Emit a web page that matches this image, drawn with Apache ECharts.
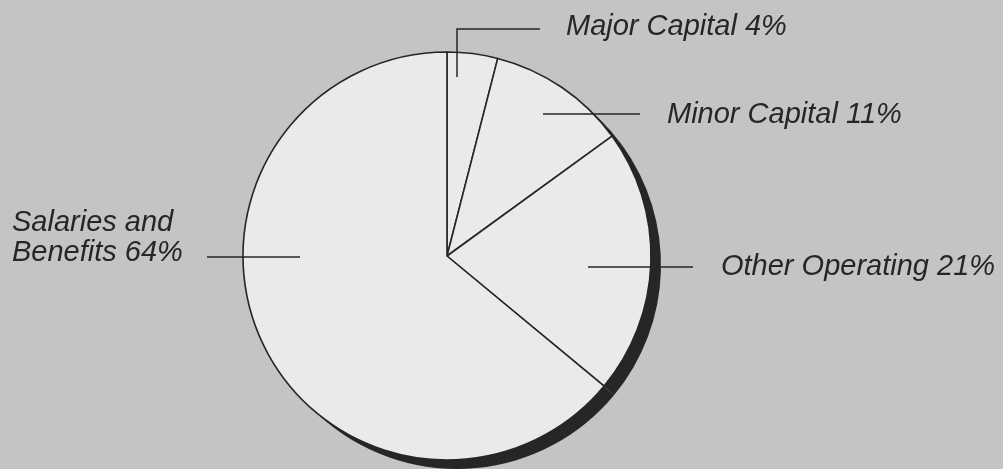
<!DOCTYPE html>
<html>
<head>
<meta charset="utf-8">
<script src="https://cdn.jsdelivr.net/npm/echarts@6/dist/echarts.min.js"></script>
<style>
html,body{margin:0;padding:0;background:#c4c4c4;}
#chart{width:1003px;height:469px;}
</style>
</head>
<body>
<div id="chart"></div>
<script>
const categories = ['Major Capital', 'Minor Capital', 'Other Operating', 'Salaries and Benefits'];
const labelTexts = ['Major Capital', 'Minor Capital', 'Other Operating', 'Salaries and\nBenefits'];
const values = [4, 11, 21, 64];

const ink = '#262626';
const center = [447, 256];
const radius = 204;

// label anchor positions and leader lines (annotation layout)
const labelPos = [
  {x: 566, y: 27, line: [[457, 77], [457, 29], [540, 29]]},
  {x: 667, y: 115, line: [[543, 114], [592, 114], [640, 114]]},
  {x: 721, y: 267, line: [[588, 267], [640, 267], [693, 267]]},
  {x: 12, y: 238, line: [[300, 257], [250, 257], [207, 257]]}
];

const chart = echarts.init(document.getElementById('chart'), null, {renderer: 'canvas'});
chart.setOption({
  backgroundColor: '#c4c4c4',
  animation: false,
  graphic: labelPos.map((lp) => ({
    type: 'polyline',
    z: 100,
    silent: true,
    shape: {points: lp.line},
    style: {stroke: ink, lineWidth: 1.5, fill: null}
  })),
  series: [
    {
      type: 'pie',
      name: 'shadow',
      silent: true,
      z: 1,
      center: [center[0] + 10, center[1] + 9],
      radius: radius,
      startAngle: 90,
      clockwise: true,
      label: {show: false},
      labelLine: {show: false},
      emphasis: {disabled: true},
      itemStyle: {color: ink, borderWidth: 0},
      data: categories.map((c, i) => ({name: c, value: values[i]}))
    },
    {
      type: 'pie',
      name: 'Budget',
      z: 2,
      center: center,
      radius: radius,
      startAngle: 90,
      clockwise: true,
      avoidLabelOverlap: false,
      minShowLabelAngle: 0,
      emphasis: {disabled: true},
      itemStyle: {color: '#eaeaea', borderColor: ink, borderWidth: 1.6},
      label: {
        show: true,
        formatter: (p) => labelTexts[p.dataIndex] + ' ' + p.value + '%',
        fontFamily: 'Liberation Sans',
        fontStyle: 'italic',
        fontSize: 29,
        lineHeight: 30,
        color: ink,
        align: 'left'
      },
      labelLine: {show: false},
      labelLayout: (params) => {
        const lp = labelPos[params.dataIndex];
        return {
          x: lp.x,
          y: lp.y,
          align: 'left',
          verticalAlign: 'middle'
        };
      },
      data: categories.map((c, i) => ({name: c, value: values[i]}))
    }
  ]
});
</script>
</body>
</html>
